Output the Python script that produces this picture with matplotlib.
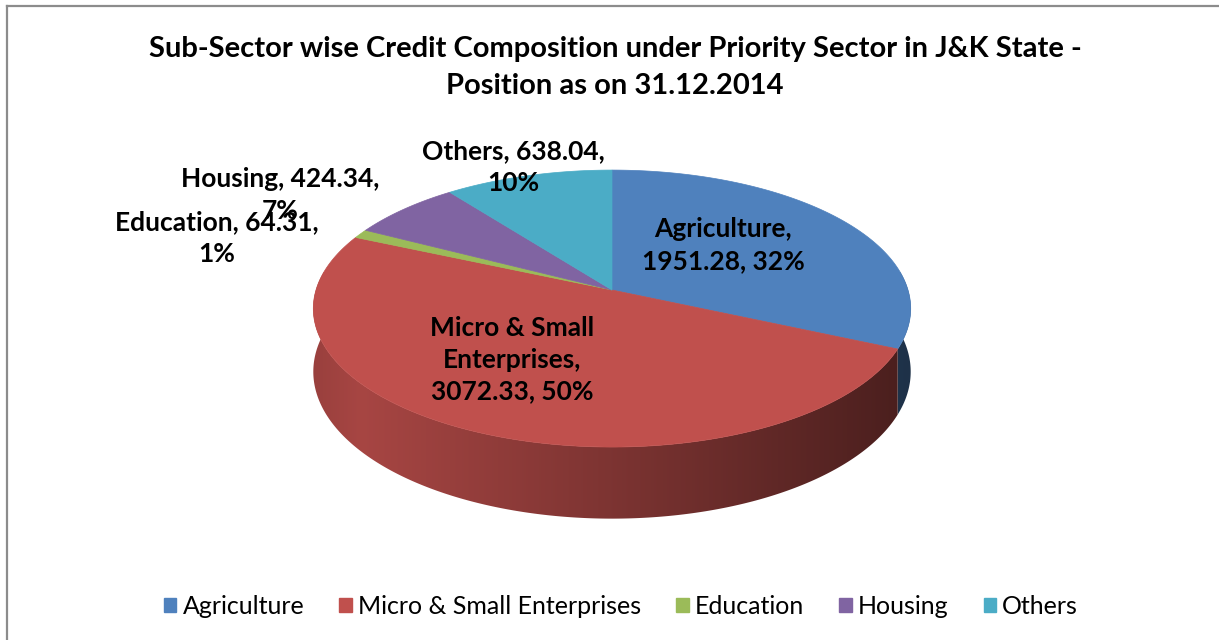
import numpy as np
import matplotlib
matplotlib.use("Agg")
import matplotlib.pyplot as plt
from matplotlib.patches import Polygon, Patch
from matplotlib.lines import Line2D

# credit outstanding by sub-sector (Rs crore)
sectors = ["Agriculture", "Micro & Small Enterprises", "Education", "Housing", "Others"]
label_names = ["Agriculture,", "Micro & Small\nEnterprises,", "Education,", "Housing,", "Others,"]
amounts = [1951.28, 3072.33, 64.31, 424.34, 638.04]
colors = ["#4F81BD", "#C0504D", "#9BBB59", "#8064A2", "#4BACC6"]

title = ("Sub-Sector wise Credit Composition under Priority Sector in J&K State -\n"
         "Position as on 31.12.2014")

W, H = 1219, 640
fig = plt.figure(figsize=(W / 100, H / 100), dpi=100)
ax = fig.add_axes([0, 0, 1, 1])
ax.set_xlim(0, W)
ax.set_ylim(H, 0)
ax.axis("off")

# perspective view of the pie disc (pixel units)
cx, cy = 612, 290
rx, ry = 296, 136
k = 0.134          # foreshortening of the far half
depth = 62


def project(theta, r=1.0):
    u = r * np.cos(theta)
    v = r * np.sin(theta)
    s = 1.0 + k * v
    return cx + rx * u / s, cy - ry * v / s


def side_drop(theta):
    return depth / (1.0 + k * np.sin(theta))


def side_shade(x):
    # light falls from the front-left
    u = (x - cx) / rx
    return np.interp(u, [-1.05, -0.85, 0.0, 1.05], [0.78, 0.87, 0.65, 0.37])


vals = np.array(amounts)
frac = vals / vals.sum()
# slices run clockwise from 12 o'clock
edges = np.radians(90 - 360 * np.concatenate([[0], np.cumsum(frac)]))

# side wall, front half only, shaded with a horizontal gradient
gx = np.linspace(cx - rx - 10, cx + rx + 10, 600)
for i, c in enumerate(colors):
    a0, a1 = edges[i], edges[i + 1]
    lo, hi = max(min(a0, a1), np.radians(-188)), min(max(a0, a1), np.radians(8))
    if hi <= lo:
        continue
    ts = np.linspace(lo, hi, 300)
    xt, yt = project(ts)
    yb = yt + side_drop(ts)
    pts = list(zip(xt, yt)) + list(zip(xt[::-1], yb[::-1]))
    wall = Polygon(pts, closed=True, facecolor="none", edgecolor="none")
    ax.add_patch(wall)
    base = np.array(matplotlib.colors.to_rgb(c))
    grad = np.clip(base[None, None, :] * side_shade(gx)[None, :, None], 0, 1)
    img = ax.imshow(grad, extent=(gx[0], gx[-1], 540, 150), aspect="auto",
                    interpolation="bilinear", zorder=1)
    img.set_clip_path(wall)

# top face
for i, c in enumerate(colors):
    ts = np.linspace(edges[i], edges[i + 1], 200)
    xs, ys = project(ts)
    pts = [(cx, cy)] + list(zip(xs, ys))
    ax.add_patch(Polygon(pts, closed=True, facecolor=c, edgecolor=c, lw=0.5, zorder=2))

ax.set_xlim(0, W)
ax.set_ylim(H, 0)

pcts = ["{:.0f}%".format(p * 100) for p in frac]
texts = [
    "{}\n{:.2f}, {}".format(label_names[0], amounts[0], pcts[0]),
    "{}\n{:.2f}, {}".format(label_names[1], amounts[1], pcts[1]),
    "{} {:.2f},\n{}".format(label_names[2], amounts[2], pcts[2]),
    "{} {:.2f},\n{}".format(label_names[3], amounts[3], pcts[3]),
    "{} {:.2f},\n{}".format(label_names[4], amounts[4], pcts[4]),
]

label_pos = [(723, 245), (512, 360), (217, 238), (280, 195), (513, 167)]
for t, (x, y) in zip(texts, label_pos):
    ax.text(x, y, t, ha="center", va="center", fontsize=19, fontweight="bold",
            family="Lato", linespacing=1.38, color="black", zorder=5)

fig.text(615 / W, 1 - 67.5 / H, title, ha="center", va="center", fontsize=21,
         fontweight="bold", family="Lato", linespacing=1.56)

handles = [Patch(facecolor=c, edgecolor=c) for c in colors]
fig.legend(handles, sectors, loc="center", bbox_to_anchor=(621 / W, 1 - 606 / H), ncol=5,
           frameon=False, prop={"family": "Lato", "size": 18}, handlelength=0.5,
           handleheight=0.5, handletextpad=0.25, columnspacing=1.4,
           borderpad=0, borderaxespad=0)

# chart area border (left and top edges)
fig.add_artist(Line2D([7 / W, 7 / W], [0, 1 - 6 / H], transform=fig.transFigure,
                      color="#8c8c8c", lw=1.6))
fig.add_artist(Line2D([7 / W, 1], [1 - 6 / H, 1 - 6 / H], transform=fig.transFigure,
                      color="#8c8c8c", lw=1.6))

fig.savefig("out.png", dpi=100, facecolor="white")
